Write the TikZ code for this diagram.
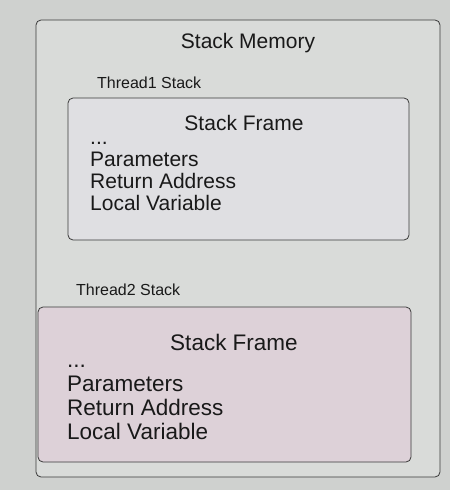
\documentclass[tikz,border=0pt]{standalone}
\usepackage{fontspec}
\setmainfont{Liberation Sans}
\usetikzlibrary{positioning}
\definecolor{pagebg}{HTML}{CFD1CF}
\definecolor{memfill}{HTML}{D9DBD9}
\definecolor{frameone}{HTML}{DFDFE2}
\definecolor{frametwo}{HTML}{DDD1D8}
\definecolor{edge}{HTML}{3A3A3A}
\newcommand{\framedots}{...}

\begin{document}
\begin{tikzpicture}[
    x=1pt, y=-1pt,
    font=\fontsize{21}{25}\selectfont, text=black!90,
    box/.style={draw=edge, line width=0.8pt, rounded corners=5pt},
    lbl/.style={font=\fontsize{16}{19}\selectfont, anchor=base west, inner sep=0pt},
    ttl/.style={anchor=base, inner sep=0pt},
    item/.style={anchor=base west, inner sep=0pt},
    big/.style={font=\fontsize{22.5}{27}\selectfont},
]
\fill[pagebg] (0,0) rectangle (450,490);
\draw[box, fill=memfill] (36,20) rectangle (440,477);
\node[ttl] (mem) at (248,48) {Stack Memory};

% thread 1
\node[lbl] (t1) at (97,88) {Thread1 Stack};
\draw[box, fill=frameone] (68,98) rectangle (409,240);
\node[ttl] (sf1) at (244,130) {Stack Frame};
\foreach \txt [count=\i] in {\framedots, Parameters, Return Address, Local Variable}
  \node[item] (a\i) at (90,{122+22*\i}) {\txt};

% thread 2
\node[lbl] (t2) at (76,295) {Thread2 Stack};
\draw[box, fill=frametwo] (38,307) rectangle (411,462);
\node[ttl, big] (sf2) at (234,350) {Stack Frame};
\foreach \txt [count=\i] in {\framedots, Parameters, Return Address, Local Variable}
  \node[item, big] (b\i) at (67,{343+24*\i}) {\txt};
\end{tikzpicture}
\end{document}
